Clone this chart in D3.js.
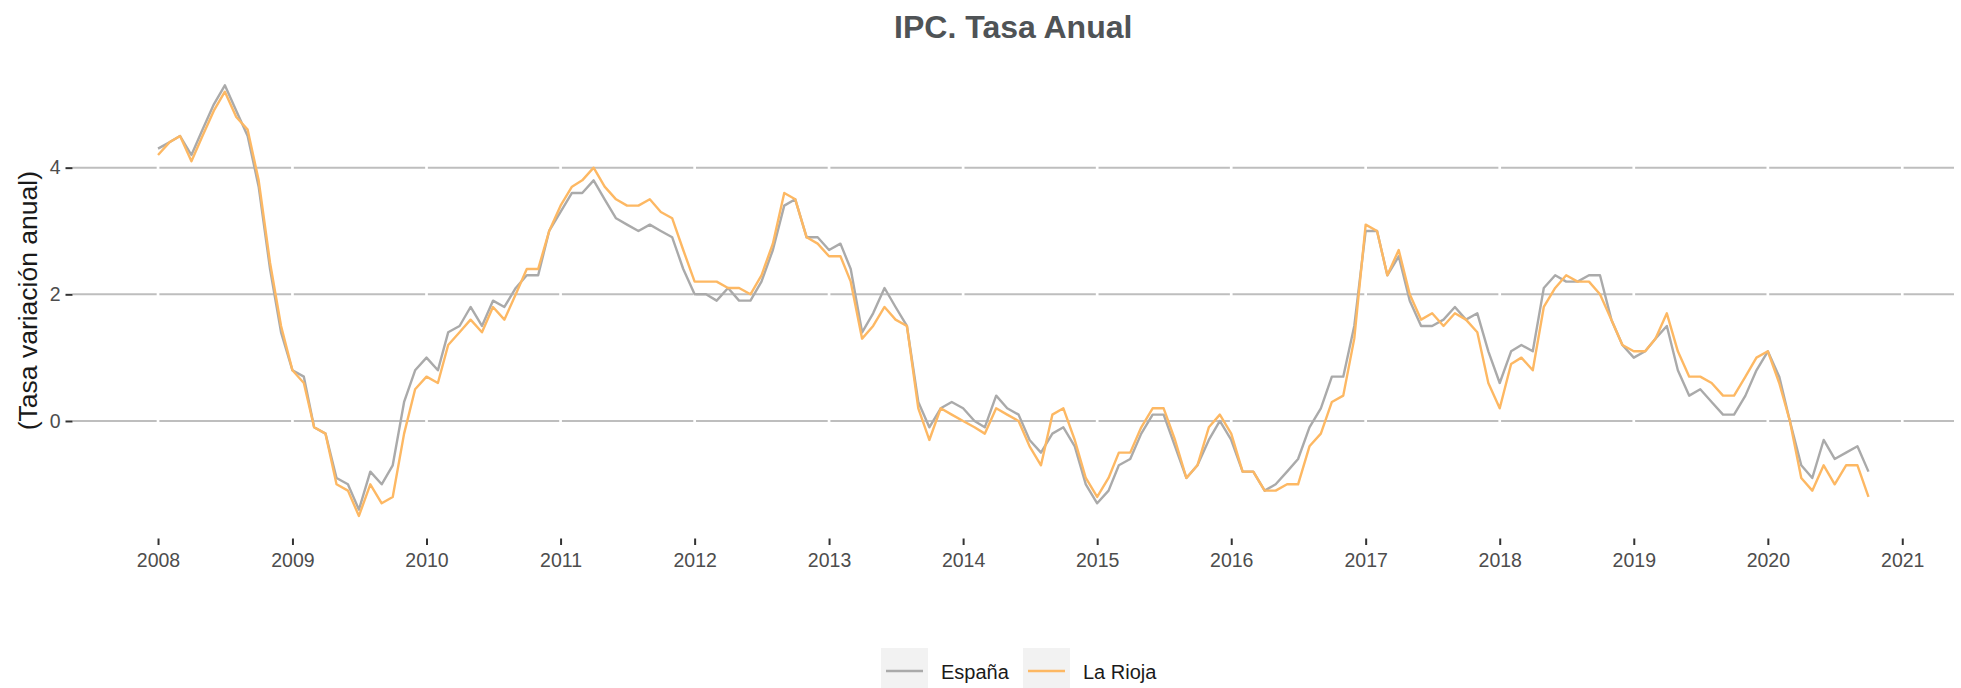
<!DOCTYPE html>
<html>
<head>
<meta charset="utf-8">
<script src="https://cdn.jsdelivr.net/npm/d3@7"></script>
<style>
  html, body { margin: 0; padding: 0; background: #fff; }
  svg { display: block; font-family: "Liberation Sans", Arial, sans-serif; }
</style>
</head>
<body>
<svg id="chart" width="1961" height="688"></svg>
<script>
// ---- Data (monthly, Jan 2008 – Oct 2020) ----
const startMonth = "2008-01";
const seriesNames = ["España", "La Rioja"];
const espana = [
  4.3,4.4,4.5,4.2,4.6,5.0,5.3,4.9,4.5,3.7,2.4,1.4,
  0.8,0.7,-0.1,-0.2,-0.9,-1.0,-1.4,-0.8,-1.0,-0.7,0.3,0.8,
  1.0,0.8,1.4,1.5,1.8,1.5,1.9,1.8,2.1,2.3,2.3,3.0,
  3.3,3.6,3.6,3.8,3.5,3.2,3.1,3.0,3.1,3.0,2.9,2.4,
  2.0,2.0,1.9,2.1,1.9,1.9,2.2,2.7,3.4,3.5,2.9,2.9,
  2.7,2.8,2.4,1.4,1.7,2.1,1.8,1.5,0.3,-0.1,0.2,0.3,
  0.2,0.0,-0.1,0.4,0.2,0.1,-0.3,-0.5,-0.2,-0.1,-0.4,-1.0,
  -1.3,-1.1,-0.7,-0.6,-0.2,0.1,0.1,-0.4,-0.9,-0.7,-0.3,0.0,
  -0.3,-0.8,-0.8,-1.1,-1.0,-0.8,-0.6,-0.1,0.2,0.7,0.7,1.5,
  3.0,3.0,2.3,2.6,1.9,1.5,1.5,1.6,1.8,1.6,1.7,1.1,
  0.6,1.1,1.2,1.1,2.1,2.3,2.2,2.2,2.3,2.3,1.6,1.2,
  1.0,1.1,1.3,1.5,0.8,0.4,0.5,0.3,0.1,0.1,0.4,0.8,
  1.1,0.7,0.0,-0.7,-0.9,-0.3,-0.6,-0.5,-0.4,-0.8
];
const laRioja = [
  4.2,4.4,4.5,4.1,4.5,4.9,5.2,4.8,4.6,3.8,2.5,1.5,
  0.8,0.6,-0.1,-0.2,-1.0,-1.1,-1.5,-1.0,-1.3,-1.2,-0.2,0.5,
  0.7,0.6,1.2,1.4,1.6,1.4,1.8,1.6,2.0,2.4,2.4,3.0,
  3.4,3.7,3.8,4.0,3.7,3.5,3.4,3.4,3.5,3.3,3.2,2.7,
  2.2,2.2,2.2,2.1,2.1,2.0,2.3,2.8,3.6,3.5,2.9,2.8,
  2.6,2.6,2.2,1.3,1.5,1.8,1.6,1.5,0.2,-0.3,0.2,0.1,
  0.0,-0.1,-0.2,0.2,0.1,0.0,-0.4,-0.7,0.1,0.2,-0.3,-0.9,
  -1.2,-0.9,-0.5,-0.5,-0.1,0.2,0.2,-0.3,-0.9,-0.7,-0.1,0.1,
  -0.2,-0.8,-0.8,-1.1,-1.1,-1.0,-1.0,-0.4,-0.2,0.3,0.4,1.3,
  3.1,3.0,2.3,2.7,2.0,1.6,1.7,1.5,1.7,1.6,1.4,0.6,
  0.2,0.9,1.0,0.8,1.8,2.1,2.3,2.2,2.2,2.0,1.6,1.2,
  1.1,1.1,1.3,1.7,1.1,0.7,0.7,0.6,0.4,0.4,0.7,1.0,
  1.1,0.6,0.0,-0.9,-1.1,-0.7,-1.0,-0.7,-0.7,-1.2
];
const yearTicks = [2008,2009,2010,2011,2012,2013,2014,2015,2016,2017,2018,2019,2020,2021];
const yTicks = [0, 2, 4];
const titleText = "IPC. Tasa Anual";
const yTitle = "(Tasa variación anual)";

// ---- Layout ----
const colors = ["#aaaaaa", "#fdb863"];
const panel = { left: 72.5, right: 1954, top: 63.8, bottom: 537.5 };

const t0 = d3.utcParse("%Y-%m")(startMonth);
const dates = d3.utcMonth.range(t0, d3.utcMonth.offset(t0, espana.length));
const series = [espana, laRioja].map((vals, i) => ({
  name: seriesNames[i],
  color: colors[i],
  values: vals.map((v, j) => ({ date: dates[j], value: v }))
}));

// ggplot-like 5% expansion
const dExt = d3.extent(dates);
const dSpan = dExt[1] - dExt[0];
const x = d3.scaleUtc()
  .domain([new Date(+dExt[0] - 0.05 * dSpan), new Date(+dExt[1] + 0.05 * dSpan)])
  .range([panel.left, panel.right]);
const allVals = espana.concat(laRioja);
const vExt = d3.extent(allVals);
const vSpan = vExt[1] - vExt[0];
const y = d3.scaleLinear()
  .domain([vExt[0] - 0.05 * vSpan, vExt[1] + 0.05 * vSpan])
  .range([panel.bottom, panel.top]);

const svg = d3.select("#chart");

// horizontal gridlines
svg.append("g").selectAll("line").data(yTicks).join("line")
  .attr("x1", panel.left).attr("x2", panel.right)
  .attr("y1", d => y(d)).attr("y2", d => y(d))
  .attr("stroke", "#bebebe").attr("stroke-width", 2);

// white vertical gridlines at years
const yearDates = yearTicks.map(yr => new Date(Date.UTC(yr, 0, 1)));
svg.append("g").selectAll("line").data(yearDates).join("line")
  .attr("x1", d => x(d)).attr("x2", d => x(d))
  .attr("y1", panel.top).attr("y2", panel.bottom)
  .attr("stroke", "#ffffff").attr("stroke-width", 2.7);

// lines
const line = d3.line().x(d => x(d.date)).y(d => y(d.value));
svg.append("g").selectAll("path").data(series).join("path")
  .attr("d", d => line(d.values))
  .attr("fill", "none")
  .attr("stroke", d => d.color)
  .attr("stroke-width", 2.4)
  .attr("stroke-linejoin", "round");

// x axis
const xAxis = d3.axisBottom(x).tickValues(yearDates)
  .tickFormat(d3.utcFormat("%Y")).tickSize(6.5).tickPadding(8);
const gx = svg.append("g").attr("transform", `translate(0,${panel.bottom + 1})`).call(xAxis);
gx.select(".domain").remove();
gx.selectAll(".tick line").attr("stroke", "#333333").attr("stroke-width", 2);
gx.selectAll(".tick text").attr("fill", "#4d4d4d").attr("font-size", 19.5)
  .attr("font-family", "Liberation Sans, Arial, sans-serif");

// y axis
const yAxis = d3.axisLeft(y).tickValues(yTicks).tickFormat(d3.format("d")).tickSize(7).tickPadding(5);
const gy = svg.append("g").attr("transform", `translate(${panel.left},0)`).call(yAxis);
gy.select(".domain").remove();
gy.selectAll(".tick line").attr("stroke", "#333333").attr("stroke-width", 2);
gy.selectAll(".tick text").attr("fill", "#4d4d4d").attr("font-size", 19.5)
  .attr("font-family", "Liberation Sans, Arial, sans-serif");

// y title
svg.append("text")
  .attr("transform", `translate(37,${(panel.top + panel.bottom) / 2}) rotate(-90)`)
  .attr("text-anchor", "middle")
  .attr("font-size", 26.5)
  .attr("fill", "#1a1a1a")
  .text(yTitle);

// title
svg.append("text")
  .attr("x", (panel.left + panel.right) / 2)
  .attr("y", 38)
  .attr("text-anchor", "middle")
  .attr("font-size", 32)
  .attr("font-weight", "bold")
  .attr("fill", "#4f5356")
  .text(titleText);

// legend
const legendItems = [
  { name: seriesNames[0], color: colors[0], x: 881 },
  { name: seriesNames[1], color: colors[1], x: 1023 }
];
const lg = svg.append("g");
legendItems.forEach(it => {
  lg.append("rect").attr("x", it.x).attr("y", 648).attr("width", 47).attr("height", 46)
    .attr("fill", "#f2f2f2");
  lg.append("line").attr("x1", it.x + 5).attr("x2", it.x + 42)
    .attr("y1", 671).attr("y2", 671)
    .attr("stroke", it.color).attr("stroke-width", 2.4);
  lg.append("text").attr("x", it.x + 60).attr("y", 678.5)
    .attr("font-size", 20).attr("fill", "#1a1a1a").text(it.name);
});
</script>
</body>
</html>
